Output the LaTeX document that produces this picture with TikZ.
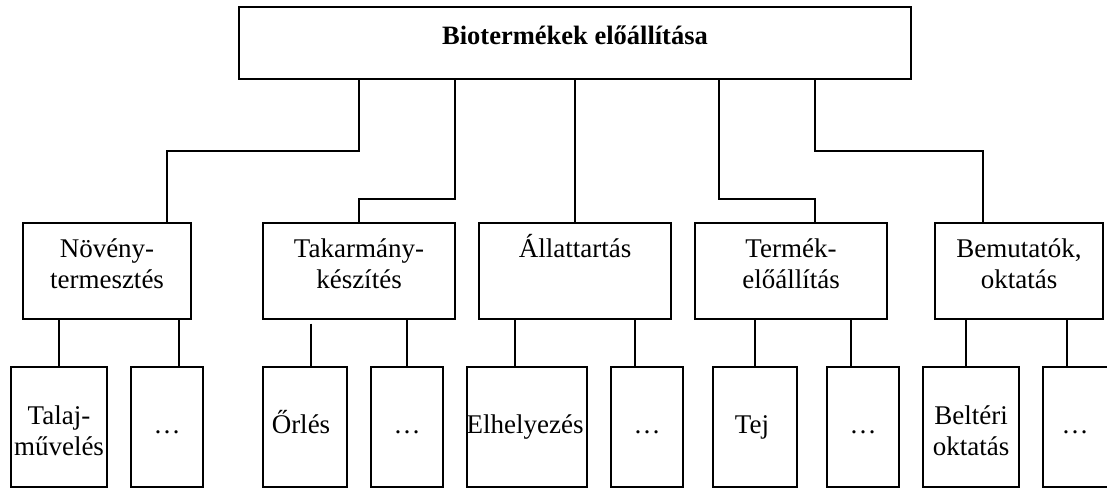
\documentclass[tikz,border=0pt]{standalone}
\usepackage{fontspec}
\setmainfont{Liberation Serif}
\usetikzlibrary{calc}
% two centred lines, baseline of the node = baseline of the first line
\newcommand\twoline[2]{\vtop{\halign{\hfil##\hfil\cr #1\cr #2\cr}}}
\begin{document}
\begin{tikzpicture}[x=1pt,y=-1pt,
  box/.style={draw=black, line width=1.2pt, rectangle, inner sep=0pt, fill=white},
  topbox/.style={box, line width=1.5pt},
  txt/.style={inner sep=0pt, anchor=base, font=\fontsize{27}{31}\selectfont},
  ttl/.style={inner sep=0pt, anchor=base, font=\fontsize{26.5}{31}\selectfont\bfseries},
  link/.style={draw=black, line width=1.2pt},
  midbox/.style={box, minimum height=96pt},
  leaf/.style={box, minimum height=120pt}]
\clip (0,0) rectangle (1107,488);
\fill[white] (0,0) rectangle (1107,488);

% root
\node[topbox, minimum width=672pt, minimum height=72pt] (T) at (575,43) {};
\node[ttl] (Tt) at (575,44) {Biotermékek előállítása};

% second level
\node[midbox, minimum width=168pt] (n1) at (107,271) {};
\node[midbox, minimum width=192pt] (n2) at (359,271) {};
\node[midbox, minimum width=192pt] (n3) at (575,271) {};
\node[midbox, minimum width=192pt] (n4) at (791,271) {};
\node[midbox, minimum width=168pt] (n5) at (1019,271) {};
\node[txt] (n1t) at ($(n1.north)+(0,35)$) {\twoline{Növény-}{termesztés}};
\node[txt] (n2t) at ($(n2.north)+(0,35)$) {\twoline{Takarmány-}{készítés}};
\node[txt] (n3t) at ($(n3.north)+(0,35)$) {Állattartás};
\node[txt] (n4t) at ($(n4.north)+(0,35)$) {\twoline{Termék-}{előállítás}};
\node[txt] (n5t) at ($(n5.north)+(0,35)$) {\twoline{Bemutatók,}{oktatás}};

% third level
\node[leaf, minimum width=96pt]  (a1) at (59,427) {};
\node[leaf, minimum width=72pt]  (b1) at (167,427) {};
\node[leaf, minimum width=84pt]  (a2) at (305,427) {};
\node[leaf, minimum width=72pt]  (b2) at (407,427) {};
\node[leaf, minimum width=120pt] (a3) at (527,427) {};
\node[leaf, minimum width=72pt]  (b3) at (647,427) {};
\node[leaf, minimum width=84pt]  (a4) at (755,427) {};
\node[leaf, minimum width=72pt]  (b4) at (863,427) {};
\node[leaf, minimum width=96pt]  (a5) at (971,427) {};
\node[leaf, minimum width=72pt]  (b5) at (1079,427) {};
\node[txt] (a1t) at ($(a1.north)+(0,58)$) {\twoline{Talaj-}{művelés}};
\node[txt] (b1t) at ($(b1.north)+(0,67)$) {…};
\node[txt] (a2t) at ($(a2.north)+(-4,67)$) {Őrlés};
\node[txt] (b2t) at ($(b2.north)+(0,67)$) {…};
\node[txt] (a3t) at ($(a3.north)+(-2,67)$) {Elhelyezés};
\node[txt] (b3t) at ($(b3.north)+(0,67)$) {…};
\node[txt] (a4t) at ($(a4.north)+(-3,67)$) {Tej};
\node[txt] (b4t) at ($(b4.north)+(0,67)$) {…};
\node[txt] (a5t) at ($(a5.north)+(0,58)$) {\twoline{Beltéri}{oktatás}};
\node[txt] (b5t) at ($(b5.north)+(-4,67)$) {…};

% root to second level
\draw[link] (359,0 |- T.south) |- (167,151) -- (167,0 |- n1.north);
\draw[link] (455,0 |- T.south) |- (359,199) -- (n2.north);
\draw[link] (T.south) -- (n3.north);
\draw[link] (719,0 |- T.south) |- (815,199) -- (815,0 |- n4.north);
\draw[link] (815,0 |- T.south) |- (983,151) -- (983,0 |- n5.north);

% second level to third level
\draw[link] (n1.south -| a1.north) -- (a1.north);
\draw[link] (179,0 |- n1.south) -- (179,0 |- b1.north);
\draw[link] ($(311,0 |- n2.south)+(0,4)$) -- (311,0 |- a2.north);
\draw[link] (n2.south -| b2.north) -- (b2.north);
\draw[link] (515,0 |- n3.south) -- (515,0 |- a3.north);
\draw[link] (635,0 |- n3.south) -- (635,0 |- b3.north);
\draw[link] (n4.south -| a4.north) -- (a4.north);
\draw[link] (851,0 |- n4.south) -- (851,0 |- b4.north);
\draw[link] (966,0 |- n5.south) -- (966,0 |- a5.north);
\draw[link] (1067,0 |- n5.south) -- (1067,0 |- b5.north);
\end{tikzpicture}
\end{document}
